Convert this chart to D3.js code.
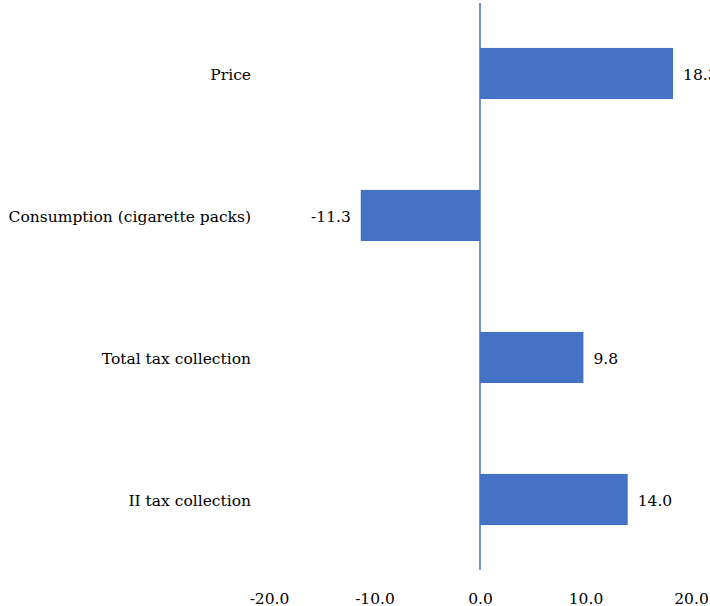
<!DOCTYPE html>
<html>
<head>
<meta charset="utf-8">
<script src="https://cdn.jsdelivr.net/npm/d3@7"></script>
<style>
  body { margin: 0; background: #fff; }
</style>
</head>
<body>
<div id="chart"></div>
<script>
// Daten
const categories = ["Price", "Consumption (cigarette packs)", "Total tax collection", "II tax collection"];
const values = [18.3, -11.3, 9.8, 14.0];
const tickValues = [-20, -10, 0, 10, 20];

const width = 710;
const height = 606;
const serif = "'DejaVu Serif', serif";
const fontSize = "15.5px";

const svg = d3.select("#chart")
    .append("svg")
    .attr("width", width)
    .attr("height", height)
    .style("font-family", serif);

const x = d3.scaleLinear()
    .domain([-20, 20])
    .range([269, 691]);

const y = d3.scaleBand()
    .domain(categories)
    .range([2.5, 570.5])
    .paddingInner(0.64)
    .paddingOuter(0.32);

// Balken
svg.selectAll("rect.bar")
    .data(values)
    .enter()
    .append("rect")
    .attr("class", "bar")
    .attr("x", d => x(Math.min(0, d)))
    .attr("y", (d, i) => y(categories[i]))
    .attr("width", d => Math.abs(x(d) - x(0)))
    .attr("height", y.bandwidth())
    .attr("fill", "#4472c4");

// Nulllinie
svg.append("line")
    .attr("x1", x(0)).attr("x2", x(0))
    .attr("y1", 3).attr("y2", 570)
    .attr("stroke", "#4472c4")
    .attr("stroke-width", 1.5);

// Kategorien
svg.selectAll("text.cat")
    .data(categories)
    .enter()
    .append("text")
    .attr("class", "cat")
    .attr("x", 251)
    .attr("y", d => y(d) + y.bandwidth() / 2 + 6)
    .attr("text-anchor", "end")
    .style("font-family", serif)
    .style("font-size", fontSize)
    .attr("fill", "#000")
    .text(d => d);

// Werte
svg.selectAll("text.val")
    .data(values)
    .enter()
    .append("text")
    .attr("class", "val")
    .attr("x", d => d >= 0 ? x(d) + 10 : x(d) - 10)
    .attr("y", (d, i) => y(categories[i]) + y.bandwidth() / 2 + 6)
    .attr("text-anchor", d => d >= 0 ? "start" : "end")
    .style("font-family", serif)
    .style("font-size", fontSize)
    .attr("fill", "#000")
    .text(d => d.toFixed(1));

// x-Achse (nur Beschriftungen)
const xAxis = svg.append("g")
    .attr("transform", "translate(0,604)")
    .call(d3.axisBottom(x).tickValues(tickValues).tickSize(0).tickPadding(0).tickFormat(d => d.toFixed(1)));
xAxis.attr("font-family", null).attr("font-size", null);
xAxis.select(".domain").remove();
xAxis.selectAll("text")
    .attr("dy", 0)
    .attr("y", 0)
    .style("font-family", serif)
    .style("font-size", fontSize)
    .attr("fill", "#000");
</script>
</body>
</html>
